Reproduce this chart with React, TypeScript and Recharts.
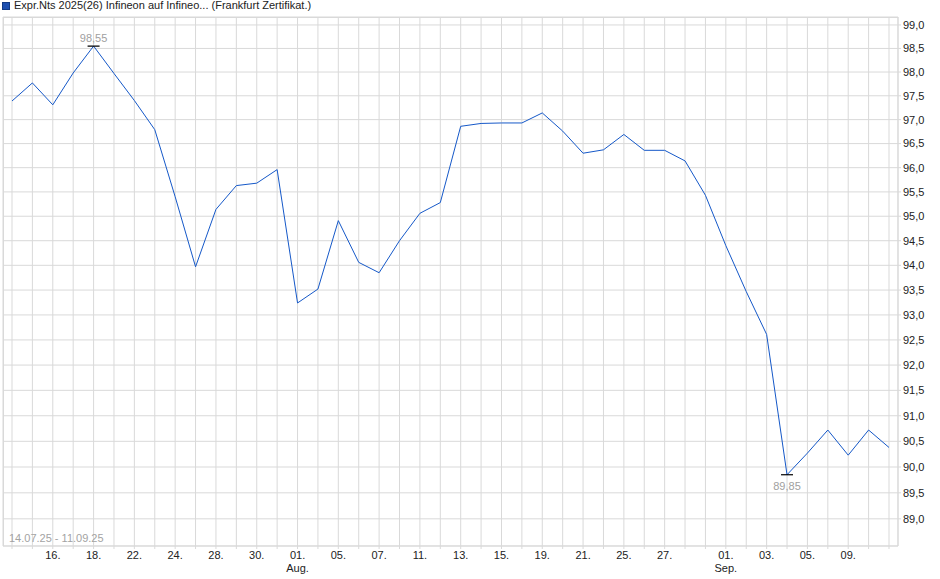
import React from "react";
import { LineChart, Line, XAxis, YAxis, CartesianGrid } from "recharts";

// trading days 14.07.25 - 11.09.25
const DATES = [
  "2025-07-14", "2025-07-15", "2025-07-16", "2025-07-17", "2025-07-18",
  "2025-07-21", "2025-07-22", "2025-07-23", "2025-07-24", "2025-07-25",
  "2025-07-28", "2025-07-29", "2025-07-30", "2025-07-31", "2025-08-01",
  "2025-08-04", "2025-08-05", "2025-08-06", "2025-08-07", "2025-08-08",
  "2025-08-11", "2025-08-12", "2025-08-13", "2025-08-14", "2025-08-15",
  "2025-08-18", "2025-08-19", "2025-08-20", "2025-08-21", "2025-08-22",
  "2025-08-25", "2025-08-26", "2025-08-27", "2025-08-28", "2025-08-29",
  "2025-09-01", "2025-09-02", "2025-09-03", "2025-09-04", "2025-09-05",
  "2025-09-08", "2025-09-09", "2025-09-10", "2025-09-11",
];

const PRICES = [
  97.39, 97.77, 97.31, 97.98, 98.55,
  97.97, 97.4, 96.79, 95.4, 93.97,
  95.14, 95.63, 95.68, 95.96, 93.24,
  93.52, 94.91, 94.06, 93.85, 94.5,
  95.06, 95.28, 96.86, 96.92, 96.93,
  96.93, 97.14, 96.76, 96.3, 96.37,
  96.69, 96.36, 96.36, 96.14, 95.43,
  94.4, 93.47, 92.61, 89.85, 90.27,
  90.72, 90.23, 90.72, 90.38,
];

const LABELED_DATES = [
  "2025-07-16", "2025-07-18", "2025-07-22", "2025-07-24", "2025-07-28", "2025-07-30",
  "2025-08-01", "2025-08-05", "2025-08-07", "2025-08-11", "2025-08-13", "2025-08-15",
  "2025-08-19", "2025-08-21", "2025-08-25", "2025-08-27",
  "2025-09-01", "2025-09-03", "2025-09-05", "2025-09-09",
];

const MONTHS = ["Jan.", "Feb.", "Mär.", "Apr.", "Mai", "Jun.", "Jul.", "Aug.", "Sep.", "Okt.", "Nov.", "Dez."];

const Y_TICKS = [89, 89.5, 90, 90.5, 91, 91.5, 92, 92.5, 93, 93.5, 94, 94.5, 95, 95.5, 96, 96.5, 97, 97.5, 98, 98.5, 99];

const TITLE = "Expr.Nts 2025(26) Infineon auf Infineo... (Frankfurt Zertifikat.)";
const RANGE_TEXT = "14.07.25 - 11.09.25";

const data = DATES.map((d, i) => ({ d, v: PRICES[i] }));
const maxIdx = PRICES.indexOf(Math.max(...PRICES));
const minIdx = PRICES.indexOf(Math.min(...PRICES));

const FONT = "'Liberation Sans', Arial, sans-serif";
const GRID = "#d9d9d9";

const fmt = (v: number, digits: number) => v.toFixed(digits).replace(".", ",");

function DateTick(props: any) {
  const { x, y, payload } = props;
  const d: string = payload.value;
  if (!LABELED_DATES.includes(d)) return <g />;
  const [, m, day] = d.split("-");
  return (
    <g>
      <text x={x} y={y} dy="0.71em" textAnchor="middle" fontSize={11} fill="#222" fontFamily={FONT}>
        {day}.
      </text>
      {day === "01" && (
        <text x={x} y={y + 21} textAnchor="middle" fontSize={11} fill="#222" fontFamily={FONT}>
          {MONTHS[Number(m) - 1]}
        </text>
      )}
    </g>
  );
}

function ExtremeDot(props: any) {
  const { cx, cy, index } = props;
  if (index !== maxIdx && index !== minIdx) return <g key={index} />;
  const isMax = index === maxIdx;
  return (
    <g key={index}>
      <line x1={cx - 6} x2={cx + 6} y1={cy} y2={cy} stroke="#000" strokeWidth={1.2} />
      <text
        x={cx}
        y={isMax ? cy - 4 : cy + 15}
        textAnchor="middle"
        fontSize={11}
        fill="#a0a0a0"
        fontFamily={FONT}
      >
        {fmt(PRICES[index], 2)}
      </text>
    </g>
  );
}

export default function App() {
  return (
    <div style={{ position: "absolute", left: 0, top: 0, width: 940, height: 579, background: "#fff", fontFamily: FONT }}>
      {/* legend */}
      <div style={{ position: "absolute", left: 2, top: 2, width: 6, height: 6, background: "#1d4fb0", border: "1px solid #123a85" }} />
      <div style={{ position: "absolute", left: 14, top: -1, fontSize: 11, color: "#222", whiteSpace: "nowrap" }}>{TITLE}</div>

      <LineChart width={940} height={579} data={data} margin={{ top: 17, right: 0, bottom: 0, left: 3 }}>
        <CartesianGrid stroke={GRID} strokeWidth={1} />
        <XAxis
          dataKey="d"
          interval={0}
          padding={{ left: 9, right: 9 }}
          height={33}
          axisLine={{ stroke: GRID }}
          tickLine={{ stroke: GRID }}
          tickSize={3}
          tickMargin={2}
          tick={<DateTick />}
        />
        <YAxis
          orientation="right"
          scale="log"
          domain={[88.48, 99.17]}
          allowDataOverflow
          ticks={Y_TICKS}
          interval={0}
          width={42}
          axisLine={{ stroke: GRID }}
          tickLine={{ stroke: GRID }}
          tickSize={3}
          tickMargin={2}
          tickFormatter={(v: number) => fmt(v, 1)}
          tick={{ fontSize: 11, fill: "#222", fontFamily: FONT, textAnchor: "start" }}
        />
        <Line
          dataKey="v"
          type="linear"
          stroke="#1558c8"
          strokeWidth={1}
          dot={<ExtremeDot />}
          activeDot={false}
          isAnimationActive={false}
        />
      </LineChart>

      {/* plot frame top + left */}
      <div style={{ position: "absolute", left: 3, top: 17, width: 895, height: 529, borderTop: `1px solid ${GRID}`, borderLeft: `1px solid ${GRID}`, boxSizing: "border-box", pointerEvents: "none" }} />
      <div style={{ position: "absolute", left: 9, top: 532, fontSize: 11, color: "#a3a3a3", whiteSpace: "nowrap" }}>{RANGE_TEXT}</div>
    </div>
  );
}
